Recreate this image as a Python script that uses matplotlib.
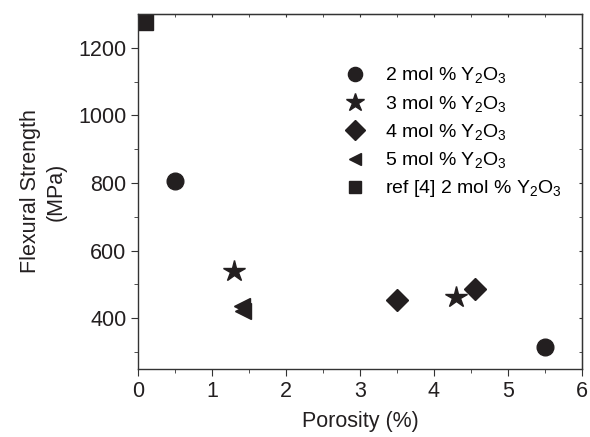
import matplotlib
matplotlib.use("Agg")
import matplotlib.pyplot as plt

plt.rcParams['font.family'] = ['Liberation Sans', 'DejaVu Sans']
plt.rcParams['mathtext.fontset'] = 'custom'
plt.rcParams['mathtext.rm'] = 'Liberation Sans'

# flexural strength (MPa) vs porosity (%) per yttria content
por_2mol = [0.5, 5.5]
str_2mol = [807, 316]
por_3mol = [1.3, 4.3]
str_3mol = [540, 463]
por_4mol = [3.5, 4.55]
str_4mol = [454, 486]
por_5mol = [1.4, 1.42]
str_5mol = [437, 421]
por_ref = [0.1]
str_ref = [1276]

labels = [r'2 mol % Y$_2$O$_3$', r'3 mol % Y$_2$O$_3$', r'4 mol % Y$_2$O$_3$',
          r'5 mol % Y$_2$O$_3$', r'ref [4] 2 mol % Y$_2$O$_3$']

ink = '#231f20'

fig = plt.figure(figsize=(5.9, 4.37), dpi=100)
ax = fig.add_axes([0.234, 0.156, 0.752, 0.812])

ax.plot(por_2mol, str_2mol, 'o', ms=12, color=ink, ls='none', label=labels[0])
ax.plot(por_3mol, str_3mol, '*', ms=16, color=ink, ls='none', label=labels[1])
ax.plot(por_4mol, str_4mol, 'D', ms=11.5, color=ink, ls='none', label=labels[2])
ax.plot(por_5mol, str_5mol, '<', ms=11, color=ink, ls='none', label=labels[3])
ax.plot(por_ref, str_ref, 's', ms=11, color=ink, ls='none', label=labels[4])

xmajor = list(range(0, 7))
xminor = [i + 0.5 for i in range(6)]
ymajor = [400, 600, 800, 1000, 1200]
yminor = [300, 500, 700, 900, 1100]

ax.set_xlim(0, 6)
ax.set_ylim(250, 1300)
ax.set_xticks(xmajor)
ax.set_xticks(xminor, minor=True)
ax.set_yticks(ymajor)
ax.set_yticks(yminor, minor=True)

for s in ax.spines.values():
    s.set_color('#333333')
    s.set_linewidth(1.0)

ax.tick_params(which='both', direction='out', colors='#333333', labelcolor=ink,
               labelsize=15.5)
ax.tick_params(which='major', length=5)
ax.tick_params(which='minor', length=3)

# short inward ticks on the top and right frame
sx = ax.secondary_xaxis('top')
sx.set_xticks(xmajor)
sx.set_xticks(xminor, minor=True)
sx.tick_params(which='both', direction='in', length=2, labeltop=False, colors='#333333')
sy = ax.secondary_yaxis('right')
sy.set_yticks(ymajor)
sy.set_yticks(yminor, minor=True)
sy.tick_params(which='both', direction='in', length=2, labelright=False, colors='#333333')

ax.set_xlabel('Porosity (%)', fontsize=15.5, color=ink, labelpad=7)
ax.set_ylabel('Flexural Strength\n(MPa)', fontsize=15.5, color=ink, labelpad=8,
              linespacing=1.3)

ax.legend(loc='upper left', bbox_to_anchor=(0.462, 0.853), frameon=False,
          fontsize=14, labelspacing=0.4, handletextpad=0.95, markerscale=0.85,
          handlelength=1.2, borderaxespad=0, borderpad=0)

fig.savefig('out.png', dpi=100)
